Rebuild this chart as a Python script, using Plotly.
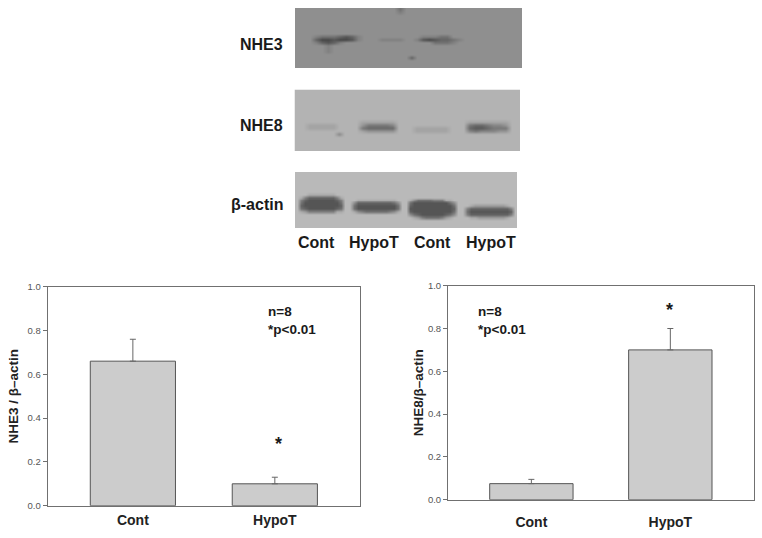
import plotly.graph_objects as go

# ---------- bar chart data ----------
categories = ["Cont", "HypoT"]
nhe3_values = [0.66, 0.10]
nhe3_errors = [0.10, 0.03]
nhe8_values = [0.075, 0.70]
nhe8_errors = [0.02, 0.10]
y_ticks = [0.0, 0.2, 0.4, 0.6, 0.8, 1.0]
lane_labels = ["Cont", "HypoT", "Cont", "HypoT"]

# ---------- blot pictures, read by eye as low-res grey bitmaps (hex grey level per cell) ----------
NHE3_ROWS = [
    "888888888888888886",
    "888888888888888887",
    "8", "8", "8", "8", "8", "8", "8",
    "888" "76665457" "8888888888" "77766",
    "888" "53343347" "888" "7777" "88" "7" "4345567",
    "888" "75457" "888888888888888" "6667",
    "88888" "7",
    "88888" "7",
    "88888" "7",
    "8",
    "8888888888888888888" "5",
    "8",
    "8",
    "8",
]
NHE8_ROWS = [
    "B", "B", "B", "B", "B", "B", "B", "B", "B", "B",
    "BBBBBBBBBBBAAAAAABBBBBBBBBBBBAAAAAAAB",
    "BB" "AAAAA" "BBBB" "977778" "BBB" "BBBBBB" "BBB" "7667889",
    "BB" "AAAAA" "BBBB" "766666" "BBB" "AAAAAA" "BBB" "6556777",
    "BBBBBBB" "BBBB" "A99999" "BBB" "AAAAAA" "BBB" "8788899",
    "BBBBBBB8",
    "B", "B", "B", "B", "B",
]
ACTIN_ROWS = [
    "B", "B", "B", "B", "B", "B", "B",
    "B" "BBAAAAAAABB",
    "B" "A755555557A",
    "B" "75444444457" "BB" "BAAAAAAAAAAB" "BB" "A86666777AAB",
    "B" "64444444446" "BB" "855555555568" "BB" "644444444468",
    "B" "54444444445" "BB" "644444444446" "BB" "544444444446" "BB" "BA99999999AB",
    "B" "65444444456" "BB" "644444444446" "BB" "444444444445" "BB" "755555555557",
    "B" "A97777777AA" "BB" "A87666666" "78A" "BB" "544444444446" "BB" "644444444445",
    "B" "BBBBBBBBBBB" "BB" "BBBBBBBBBBBB" "BB" "865444444568" "BB" "755555555557",
    "B" "BBBBBBBBBBB" "BB" "BBBBBBBBBBBB" "BB" "BA9766667" "9AB" "BB" "BAA9999999AB",
    "B", "B", "B",
]


def bitmap(rows, cols):
    return [[int(c, 16) for c in r.ljust(cols, r[0])] for r in rows]


W, H = 762, 538


def dx(a, b):
    return [a / W, b / W]


def dy(top, bottom):
    return [1 - bottom / H, 1 - top / H]


fig = go.Figure()

# blots: rows, columns, px box (left, right, top, bottom), grey scale limits
blots = [
    (NHE3_ROWS, 38, (295, 522, 8, 68), (-2, 15.8)),
    (NHE8_ROWS, 38, (294.5, 520, 89.5, 151), (-1, 16.1)),
    (ACTIN_ROWS, 55, (295, 517, 172, 228), (-2, 15.9)),
]
layout_axes = {}
for i, (rows, cols, (l, r, t, b), (z0, z1)) in enumerate(blots):
    n = i + 3
    z = bitmap(rows, cols)
    fig.add_trace(go.Heatmap(
        z=z, zmin=z0, zmax=z1, zsmooth="best", showscale=False, hoverinfo="skip",
        colorscale=[[0, "#000000"], [1, "#ffffff"]],
        xaxis=f"x{n}", yaxis=f"y{n}",
    ))
    layout_axes[f"xaxis{n}"] = dict(domain=dx(l, r), range=[-0.5, cols - 0.5], visible=False, anchor=f"y{n}")
    layout_axes[f"yaxis{n}"] = dict(domain=dy(t, b), range=[len(rows) - 0.5, -0.5], visible=False, anchor=f"x{n}")

# bar charts
fig.add_trace(go.Bar(
    x=categories, y=nhe3_values, width=0.6, xaxis="x", yaxis="y",
    marker=dict(color="#cccccc", line=dict(color="#555555", width=1)),
    error_y=dict(type="data", symmetric=False, array=nhe3_errors, arrayminus=[0, 0],
                 color="#666666", thickness=1, width=3),
))
fig.add_trace(go.Bar(
    x=categories, y=nhe8_values, width=0.6, xaxis="x2", yaxis="y2",
    marker=dict(color="#cccccc", line=dict(color="#555555", width=1)),
    error_y=dict(type="data", symmetric=False, array=nhe8_errors, arrayminus=[0, 0],
                 color="#666666", thickness=1, width=3),
))

FONT = "Liberation Sans, Arial, sans-serif"


def x_axis(domain, anchor, standoff):
    return dict(domain=domain, anchor=anchor, range=[-0.6, 1.6], type="category",
                categoryorder="array", categoryarray=categories, automargin=False,
                showline=True, linecolor="#707070", linewidth=1, mirror=True,
                ticks="", showgrid=False, ticklabelstandoff=standoff, zeroline=False,
                tickfont=dict(family=FONT, size=14, color="#222222", weight="bold"))


def y_axis(domain, anchor, title, standoff):
    return dict(domain=domain, anchor=anchor, range=[0, 1], tickvals=y_ticks, automargin=False,
                tickformat=".1f", showline=True, linecolor="#707070", linewidth=1,
                mirror=True, ticks="outside", ticklen=4, tickcolor="#707070",
                showgrid=False, zeroline=False,
                tickfont=dict(family=FONT, size=9.5, color="#555555"),
                title=dict(text=title, standoff=standoff,
                           font=dict(family=FONT, size=13.5, color="#222222", weight="bold")))


def label(text, px, py, size=16, anchor="center", align="center", color="#1a1a1a"):
    return dict(text=text, x=px / W, y=1 - py / H, xref="paper", yref="paper", showarrow=False,
                xanchor=anchor, yanchor="middle", align=align,
                font=dict(family=FONT, size=size, color=color, weight="bold"))


lane_x = [316, 374, 432, 491]
annotations = [
    label("NHE3", 285, 44, anchor="right"),
    label("NHE8", 285, 125, anchor="right"),
    label("β-actin", 285, 204, anchor="right"),
]
annotations += [label(t, x, 243) for t, x in zip(lane_labels, lane_x)]
annotations += [
    label("n=8<br>*p<0.01", 266, 320, size=13.5, anchor="left", align="left"),
    label("n=8<br>*p<0.01", 476, 320, size=13.5, anchor="left", align="left"),
    dict(text="*", x="HypoT", y=0.28, xshift=4, xref="x", yref="y", showarrow=False,
         font=dict(family=FONT, size=18, color="#1a1a1a", weight="bold")),
    dict(text="*", x="HypoT", y=0.885, xshift=-1, xref="x2", yref="y2", showarrow=False,
         font=dict(family=FONT, size=18, color="#1a1a1a", weight="bold")),
]

fig.update_layout(
    width=W, height=H, margin=dict(l=0, r=0, t=0, b=0, autoexpand=False), autosize=False,
    paper_bgcolor="white", plot_bgcolor="white", showlegend=False, bargap=0.4,
    xaxis=x_axis(dx(47.7, 360), "y", 1),
    yaxis=y_axis(dy(286.7, 505.7), "x", "NHE3 / β–actin", 5),
    xaxis2=x_axis(dx(448, 753.7), "y2", 9),
    yaxis2=y_axis(dy(285.7, 499.7), "x2", "NHE8/β–actin", 1),
    annotations=annotations,
    **layout_axes,
)

fig.write_html("out.html", config={"displayModeBar": False},
               post_script="document.body.style.margin='0';document.body.style.overflow='hidden';")
